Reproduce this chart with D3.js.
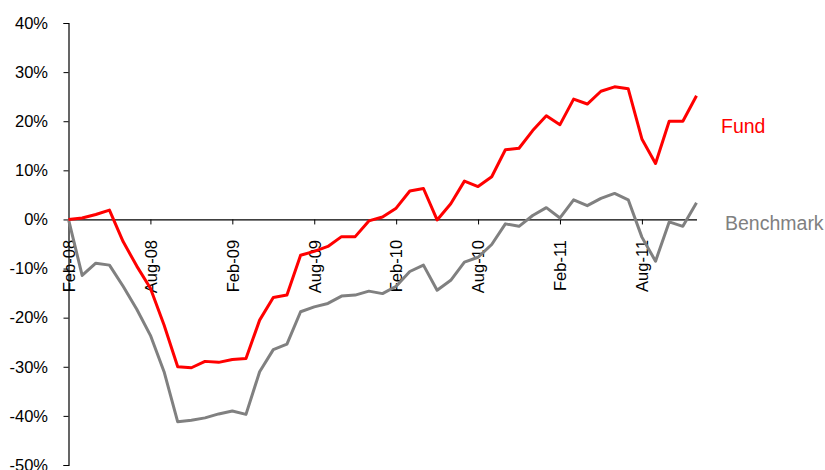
<!DOCTYPE html>
<html>
<head>
<meta charset="utf-8">
<script src="https://cdn.jsdelivr.net/npm/d3@7"></script>
<style>
  body { margin: 0; background: #fff; }
  text { font-family: 'Liberation Sans', Arial, Helvetica, sans-serif; }
</style>
</head>
<body>
<div id="chart"></div>
<script>
// monthly returns, Feb-08 .. Dec-11 (cumulative %)
const fund = [
  0, 0.3, 1.0, 1.9, -4.5, -9.5, -14, -21.5, -30, -30.2,
  -28.9, -29.1, -28.5, -28.3, -20.5, -15.9, -15.4, -7.3, -6.5, -5.5,
  -3.5, -3.5, -0.3, 0.5, 2.3, 5.8, 6.3, -0.1, 3.2, 7.8,
  6.7, 8.7, 14.2, 14.5, 18.1, 21.1, 19.3, 24.5, 23.5, 26.1,
  27.0, 26.6, 16.4, 11.4, 20.0, 20.0, 25.2
]
const benchmark = [
  0, -11.4, -8.9, -9.3, -13.6, -18.3, -23.6, -31.0, -41.2, -40.9,
  -40.4, -39.6, -39.0, -39.7, -31.0, -26.5, -25.4, -18.8, -17.8, -17.1,
  -15.6, -15.4, -14.6, -15.1, -13.6, -10.6, -9.3, -14.4, -12.4, -8.7,
  -7.7, -5.1, -0.9, -1.4, 0.8, 2.4, 0.3, 4.0, 2.8, 4.3,
  5.3, 4.0, -3.6, -8.5, -0.5, -1.4, 3.4
]
const xTickIndex = [0, 6, 12, 18, 24, 30, 36, 42]
const xTickLabels = ['Feb-08', 'Aug-08', 'Feb-09', 'Aug-09', 'Feb-10', 'Aug-10', 'Feb-11', 'Aug-11']
const yTicks = [40, 30, 20, 10, 0, -10, -20, -30, -40, -50]

const width = 825
const height = 470
const margin = { top: 23, left: 68.5, right: 128.5, bottom: 5 }

const svg = d3
  .select('#chart')
  .append('svg')
  .attr('width', width)
  .attr('height', height)

const x = d3
  .scaleLinear()
  .domain([0, fund.length - 1])
  .range([margin.left, width - margin.right])

const y = d3
  .scaleLinear()
  .domain([-50, 40])
  .range([height - margin.bottom, margin.top])

// y axis
const yAxis = svg
  .append('g')
  .attr('transform', `translate(${margin.left},0)`)
  .call(
    d3.axisLeft(y)
      .tickValues(yTicks)
      .tickSize(5)
      .tickPadding(15.5)
      .tickFormat(d => d + '%')
  )
yAxis.select('.domain').attr('stroke', '#000').attr('stroke-width', 1.2)
yAxis.selectAll('.tick line').attr('stroke', '#000')
yAxis.selectAll('.tick text')
  .attr('font-size', 16.5)
  .attr('fill', '#000')

// x axis along zero line
const xAxis = svg
  .append('g')
  .attr('transform', `translate(0,${y(0)})`)
  .call(
    d3.axisBottom(x)
      .tickValues(xTickIndex)
      .tickSize(5)
      .tickSizeOuter(0)
      .tickFormat((d, i) => xTickLabels[i])
  )
xAxis.select('.domain').attr('stroke', '#000').attr('stroke-width', 1.2)
xAxis.selectAll('.tick line').attr('stroke', '#000')
xAxis.selectAll('.tick text')
  .attr('font-size', 16.5)
  .attr('fill', '#000')
  .attr('text-anchor', 'end')
  .attr('transform', 'rotate(-90)')
  .attr('x', -20.5)
  .attr('y', 0)
  .attr('dy', '0.35em')

const line = d3
  .line()
  .x((d, i) => x(i))
  .y(d => y(d))

svg
  .append('path')
  .datum(benchmark)
  .attr('d', line)
  .attr('fill', 'none')
  .attr('stroke', '#808080')
  .attr('stroke-width', 3)
  .attr('stroke-linejoin', 'round')

svg
  .append('path')
  .datum(fund)
  .attr('d', line)
  .attr('fill', 'none')
  .attr('stroke', '#ff0000')
  .attr('stroke-width', 3)
  .attr('stroke-linejoin', 'round')

// series labels
svg
  .append('text')
  .attr('x', 721)
  .attr('y', 133)
  .attr('font-size', 19.5)
  .attr('fill', '#ff0000')
  .text('Fund')

svg
  .append('text')
  .attr('x', 725)
  .attr('y', 230)
  .attr('font-size', 19.5)
  .attr('fill', '#808080')
  .text('Benchmark')
</script>
</body>
</html>
